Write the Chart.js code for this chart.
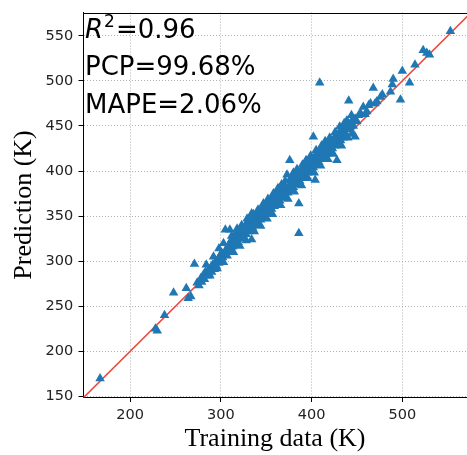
<!DOCTYPE html>
<html>
<head>
<meta charset="utf-8">
<script src="https://cdn.jsdelivr.net/npm/chart.js@4.4.1/dist/chart.umd.min.js"></script>
<style>
  html, body { margin: 0; padding: 0; background: #fff; }
  #wrap { width: 467px; height: 455px; }
</style>
</head>
<body>
<div id="wrap"><canvas id="c" width="467" height="455"></canvas></div>
<script>
// ---- data ----
const trainX = [167,228,230,238,248,262,264,267,271,274,276,278,279,281,282,283,285,286,287,289,290,291,293,294,295,297,298,299,300,301,302,303,304,305,306,307,308,309,310,310,311,312,313,314,315,316,317,318,319,320,321,322,323,324,325,326,327,328,329,330,331,332,333,334,334,335,336,337,338,339,340,341,342,343,344,345,346,347,348,349,350,351,352,353,354,355,356,357,358,359,360,361,362,363,364,365,366,367,368,369,370,371,372,373,374,375,376,376,377,378,379,380,381,382,383,384,385,386,386,387,388,389,390,391,392,393,394,395,396,397,398,399,400,401,402,402,403,404,404,405,406,407,408,409,409,410,411,412,413,414,415,416,417,418,419,420,421,422,423,424,425,426,427,428,428,429,430,431,432,433,434,435,436,437,438,439,440,441,442,443,444,446,448,448,450,452,454,457,459,461,463,465,468,470,472,476,478,487,489,490,498,500,508,514,523,527,530,553,
  284,292,298,312,318,323,329,336,341,347,352,358,363,367,371,380,384,390,394,399,405,411,415,420,426,431,436,444,
  288,296,303,314,321,328,337,344,351,357,366,374,381,389,396,403,410,418,424,433,440,445];
const predY = [170,225,223,240,265,270,259,261,297,276,273,281,277,285,280,288,284,290,286,293,288,296,291,299,295,302,298,306,302,309,304,320,308,335,313,306,317,311,335,320,313,324,316,320,328,318,324,331,321,327,334,325,330,337,327,333,340,330,336,343,333,339,346,324,353,337,343,349,340,346,352,343,349,356,346,353,359,349,356,362,352,358,365,355,361,368,358,365,371,361,367,374,364,370,377,367,374,380,370,377,384,373,380,396,376,383,412,390,379,386,393,382,389,396,385,392,399,331,364,389,395,402,392,398,405,395,401,408,398,405,411,401,408,414,438,404,411,390,417,407,413,420,410,498,416,423,413,419,426,416,422,429,419,425,431,422,428,434,425,431,437,428,434,412,440,431,437,443,434,440,446,437,443,449,440,456,446,478,450,446,455,450,438,458,455,462,464,471,463,466,473,475,492,475,477,482,485,488,496,502,479,511,498,518,534,531,529,555,
  296,305,314,328,336,340,347,352,357,364,369,375,381,385,389,398,402,407,412,417,423,428,433,437,443,449,453,462,
  284,292,299,310,317,323,333,339,347,352,362,369,377,384,392,398,406,413,419,428,437,441];
const refLine = [140, 600];            // y = x reference line ends
const xTicks = [200, 300, 400, 500];
const yTicks = [150, 200, 250, 300, 350, 400, 450, 500, 550];
const xRange = [148.2, 571.3];
const yRange = [148.9, 575.8];
const xTitle = 'Training data (K)';
const yTitle = 'Prediction (K)';
const r2Text = '=0.96';
const statLines = ['PCP=99.68%', 'MAPE=2.06%'];

const points = trainX.map((x, i) => ({ x: x, y: predY[i] }));
const linePts = refLine.map(v => ({ x: v, y: v }));

const frameAndText = {
  id: 'frameAndText',
  afterDatasetsDraw(chart) {
    const ctx = chart.ctx;
    const a = chart.chartArea;
    ctx.save();
    ctx.strokeStyle = '#000';
    ctx.lineWidth = 1;
    ctx.beginPath();
    ctx.moveTo(a.left, Math.round(a.top) + 0.5);
    ctx.lineTo(a.right, Math.round(a.top) + 0.5);
    ctx.stroke();
    ctx.fillStyle = '#000';
    ctx.textBaseline = 'alphabetic';
    ctx.textAlign = 'left';
    const x0 = a.left + 2;
    ctx.font = 'italic 26px "DejaVu Sans"';
    ctx.fillText('R', x0, 38);
    let x = x0 + ctx.measureText('R').width + 1;
    ctx.font = '17px "DejaVu Sans"';
    ctx.fillText('2', x, 27);
    x += ctx.measureText('2').width + 1;
    ctx.font = '26px "DejaVu Sans"';
    ctx.fillText(r2Text, x, 38);
    ctx.fillText(statLines[0], x0, 74.5);
    ctx.fillText(statLines[1], x0, 112.5);
    ctx.restore();
  }
};

const gridOpts = {
  color: '#b0b0b0',
  lineWidth: 1,
  drawTicks: true,
  tickLength: 4.5,
  tickColor: '#000',
  tickWidth: 1,
  tickBorderDash: []
};
const borderOpts = { display: true, color: '#000', width: 1, dash: [1, 2] };

new Chart(document.getElementById('c'), {
  type: 'scatter',
  data: {
    datasets: [
      {
        data: points,
        pointStyle: 'triangle',
        pointRadius: 5.5,
        pointHoverRadius: 5.5,
        backgroundColor: '#1f77b4',
        borderColor: '#1f77b4',
        borderWidth: 0,
        order: 1
      },
      {
        data: linePts,
        showLine: true,
        pointRadius: 0,
        borderColor: '#ee4a44',
        borderWidth: 1.6,
        order: 2
      }
    ]
  },
  options: {
    responsive: false,
    animation: false,
    devicePixelRatio: 1,
    events: [],
    layout: { autoPadding: false, padding: { top: 12.5, right: 0, left: 0, bottom: 0 } },
    plugins: { legend: { display: false }, tooltip: { enabled: false } },
    scales: {
      x: {
        type: 'linear',
        min: xRange[0],
        max: xRange[1],
        afterBuildTicks: s => { s.ticks = xTicks.map(v => ({ value: v })); },
        afterFit: s => { s.height = 57.5; s.paddingLeft = 0; s.paddingRight = 0; },
        grid: gridOpts,
        border: borderOpts,
        ticks: {
          autoSkip: false,
          maxRotation: 0,
          padding: 4.5,
          color: '#222',
          font: { family: 'DejaVu Sans', size: 14.5 },
          callback: v => String(v)
        },
        title: {
          display: true,
          text: xTitle,
          color: '#000',
          font: { family: 'Liberation Serif', size: 26 },
          padding: { top: 0, bottom: 0 }
        }
      },
      y: {
        type: 'linear',
        min: yRange[0],
        max: yRange[1],
        afterBuildTicks: s => { s.ticks = yTicks.map(v => ({ value: v })); },
        afterFit: s => { s.width = 83; s.paddingTop = 0; s.paddingBottom = 0; },
        grid: gridOpts,
        border: borderOpts,
        ticks: {
          autoSkip: false,
          padding: 5.2,
          color: '#222',
          font: { family: 'DejaVu Sans', size: 14.5 },
          callback: v => String(v)
        },
        title: {
          display: true,
          text: yTitle,
          color: '#000',
          font: { family: 'Liberation Serif', size: 26 },
          padding: { top: 9, bottom: 0 }
        }
      }
    }
  },
  plugins: [frameAndText]
});
</script>
</body>
</html>
